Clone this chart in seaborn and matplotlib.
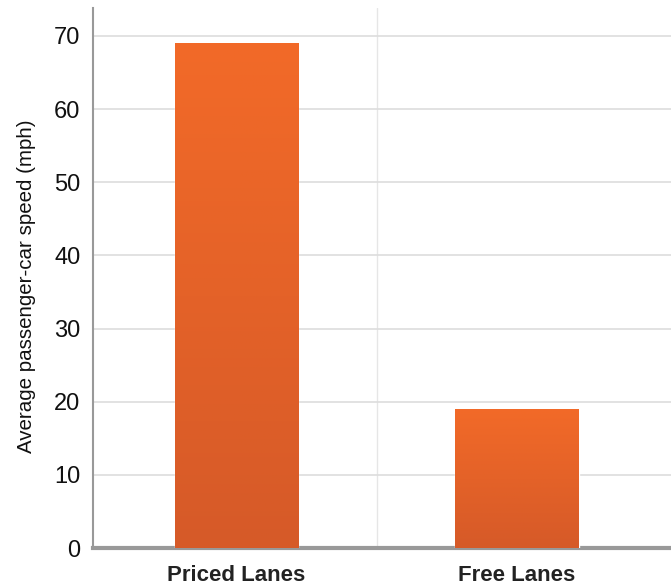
import numpy as np
import pandas as pd
import matplotlib
matplotlib.use('Agg')
import matplotlib.pyplot as plt
import matplotlib.colors as mcolors
import seaborn as sns

# data
categories = ['Priced Lanes', 'Free Lanes']
speeds = [69, 19]

df = pd.DataFrame({'Lane': categories, 'Speed': speeds})

sns.set_style('white')
plt.rcParams['font.family'] = ['Liberation Sans', 'DejaVu Sans']

fig = plt.figure(figsize=(6.71, 5.85), dpi=100)
ax = fig.add_axes([0.1386, 0.0632, 0.8614, 0.9228])

sns.barplot(data=df, x='Lane', y='Speed', color='#e8612a',
            width=0.44, saturation=1, ax=ax, zorder=3)

# gradient fill on bars (lighter on top, darker at bottom)
grad_cmap = mcolors.LinearSegmentedColormap.from_list(
    'bar', ['#d65a28', '#f26a28'])
grad = np.linspace(0, 1, 256).reshape(-1, 1)
for patch in ax.patches:
    x0, y0 = patch.get_x(), patch.get_y()
    w, h = patch.get_width(), patch.get_height()
    im = ax.imshow(grad, cmap=grad_cmap, origin='lower', aspect='auto',
                   extent=[x0, x0 + w, y0, y0 + h], zorder=4)
    im.set_clip_path(patch)

ax.set_xlim(-0.512, 1.549)
ax.set_ylim(0, 73.8)
ax.set_yticks(range(0, 80, 10))

# grid
ax.grid(axis='y', color='#dddddd', linewidth=1.2, zorder=0)
ax.axvline(0.5, color='#e6e6e6', linewidth=1, zorder=0)

# spines
for s in ['top', 'right']:
    ax.spines[s].set_visible(False)
ax.spines['left'].set_color('#999999')
ax.spines['left'].set_linewidth(1.5)
ax.spines['bottom'].set_color('#999999')
ax.spines['bottom'].set_linewidth(3)

ax.tick_params(axis='y', length=0, pad=9, labelsize=17, labelcolor='#111111')
ax.tick_params(axis='x', length=0, pad=12, labelsize=16, labelcolor='#222222')
for lbl in ax.get_xticklabels():
    lbl.set_fontweight('bold')

ax.set_xlabel('')
ax.set_ylabel('Average passenger-car speed (mph)', fontsize=14.8,
              color='#111111', labelpad=13)
ax.yaxis.label.set_y(0.485)

plt.savefig('out.png', dpi=100)
